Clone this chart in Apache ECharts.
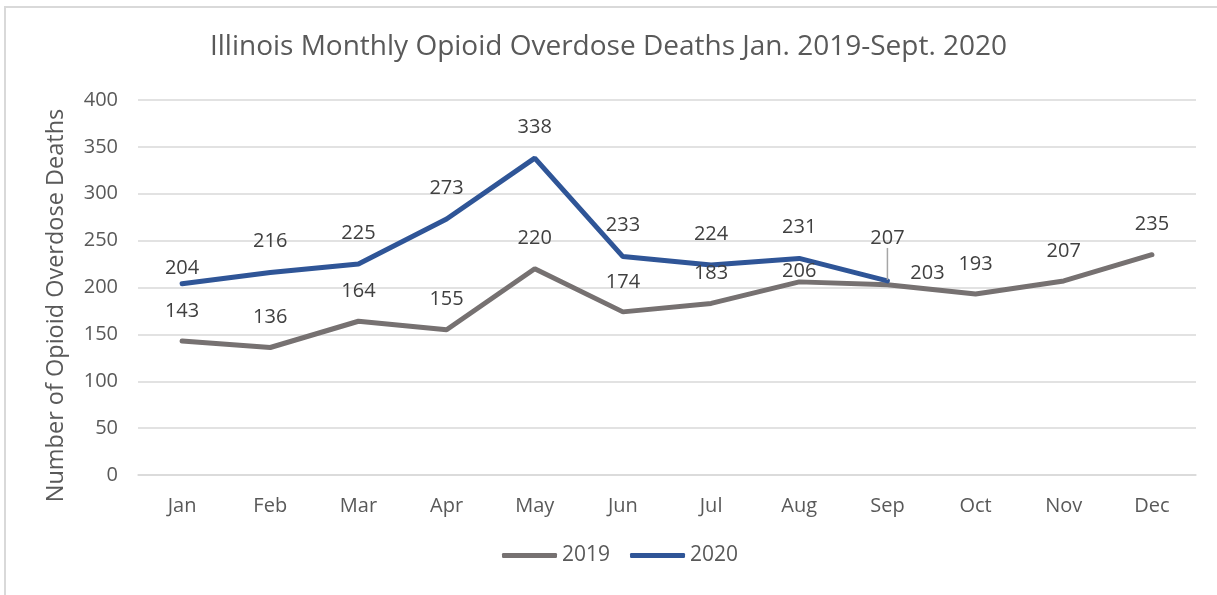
<!DOCTYPE html>
<html>
<head>
<meta charset="utf-8">
<script src="https://cdn.jsdelivr.net/npm/echarts@6/dist/echarts.min.js"></script>
<style>
  html, body { margin: 0; padding: 0; background: #fff; }
  #chart { width: 1217px; height: 595px; }
</style>
</head>
<body>
<div id="chart"></div>
<script>
var months = ['Jan', 'Feb', 'Mar', 'Apr', 'May', 'Jun', 'Jul', 'Aug', 'Sep', 'Oct', 'Nov', 'Dec'];
var deaths2019 = [143, 136, 164, 155, 220, 174, 183, 206, 203, 193, 207, 235];
var deaths2020 = [204, 216, 225, 273, 338, 233, 224, 231, 207];
var yTicks = [0, 50, 100, 150, 200, 250, 300, 350, 400];

var font = 'Open Sans';

// label nudges the way they sit in the picture
function layout2019(p) {
	if (p.dataIndex === 7) return { dy: 19 };
	if (p.dataIndex === 8) return { dx: 40, dy: 19 };
	return {};
}
function layout2020(p) {
	if (p.dataIndex === 0) return { dy: 16 };
	if (p.dataIndex === 8) return { dy: -12 };
	return {};
}

// only the Sep 2020 label gets a leader line
var data2020 = deaths2020.map(function (v, i) {
	return {
		value: v,
		labelLine: { show: i === 8 }
	};
});

var labelStyle = {
	show: true,
	position: 'top',
	distance: 20,
	fontFamily: font,
	fontSize: 20,
	color: '#404040'
};

var chart = echarts.init(document.getElementById('chart'));
chart.setOption({
	backgroundColor: '#fff',
	animation: false,
	title: {
		text: 'Illinois Monthly Opioid Overdose Deaths Jan. 2019-Sept. 2020',
		left: 'center',
		top: 28,
		textStyle: {
			fontFamily: font,
			fontSize: 28,
			fontWeight: 'normal',
			color: '#595959'
		}
	},
	legend: {
		bottom: 24,
		left: 497,
		itemWidth: 55,
		itemHeight: 5,
		itemGap: 20,
		icon: 'roundRect',
		textStyle: { fontFamily: font, fontSize: 21, color: '#595959' },
		data: ['2019', '2020']
	},
	grid: {
		left: 138,
		right: 21,
		top: 100,
		bottom: 120
	},
	xAxis: {
		type: 'category',
		data: months,
		boundaryGap: true,
		axisLine: { lineStyle: { color: '#d9d9d9', width: 1.5 } },
		axisTick: { show: false },
		axisLabel: { fontFamily: font, fontSize: 20, color: '#595959', margin: 21 }
	},
	yAxis: {
		type: 'value',
		min: yTicks[0],
		max: yTicks[yTicks.length - 1],
		interval: yTicks[1] - yTicks[0],
		name: 'Number of Opioid Overdose Deaths',
		nameLocation: 'middle',
		nameGap: 70,
		nameTextStyle: { fontFamily: font, fontSize: 23.5, color: '#595959', padding: [0, 36, 0, 0] },
		axisLine: { show: false },
		axisTick: { show: false },
		axisLabel: { fontFamily: font, fontSize: 20, color: '#595959', margin: 20 },
		splitLine: { lineStyle: { color: '#d9d9d9', width: 1.5 } }
	},
	series: [{
		name: '2019',
		type: 'line',
		data: deaths2019,
		showSymbol: true,
		symbol: 'circle',
		symbolSize: 0,
		color: '#767171',
		lineStyle: { width: 5, color: '#767171', cap: 'round' },
		label: labelStyle,
		labelLayout: layout2019
	}, {
		name: '2020',
		type: 'line',
		data: data2020,
		showSymbol: true,
		symbol: 'circle',
		symbolSize: 2,
		color: '#2f5597',
		itemStyle: { color: '#2f5597' },
		lineStyle: { width: 5, color: '#2f5597', cap: 'round' },
		label: labelStyle,
		labelLine: { show: false, lineStyle: { color: '#a6a6a6', width: 1.5 } },
		labelLayout: layout2020
	}],
	graphic: [{
		type: 'polyline',
		shape: { points: [[5, 595], [5, 7], [1217, 7]] },
		style: { stroke: '#d9d9d9', lineWidth: 2, fill: null }
	}]
});
</script>
</body>
</html>
